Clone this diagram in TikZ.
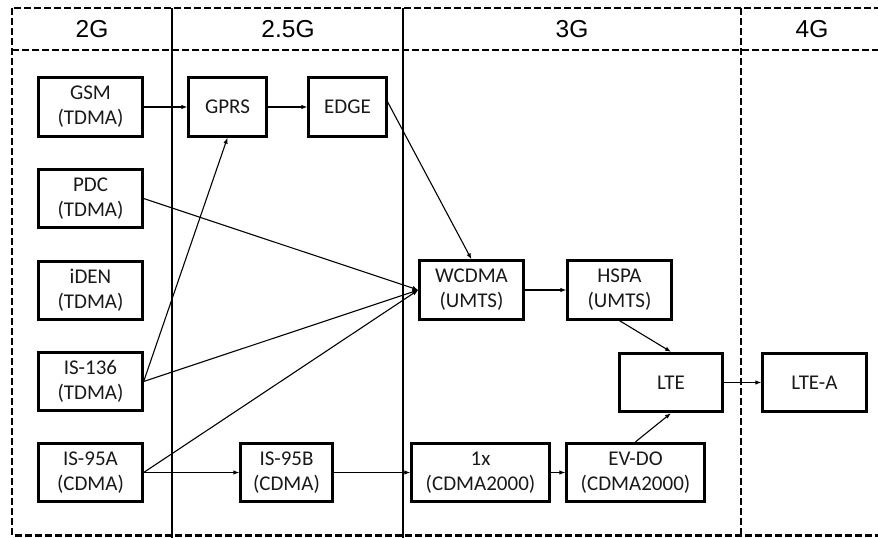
\documentclass[tikz,border=0pt]{standalone}
\usepackage{fontspec}
\setmainfont{Carlito}
\newfontfamily\headfont{Liberation Sans}
\usetikzlibrary{arrows.meta}
\begin{document}
\begin{tikzpicture}[x=1pt,y=-1pt,
  gen/.style={draw=black,line width=2.8pt,minimum height=58.5pt,inner sep=0pt,
    align=center,font=\fontsize{21}{25}\selectfont,text=black!90},
  frame/.style={line width=2.2pt,dash pattern=on 7pt off 3pt},
  divider/.style={line width=2.2pt},
  head/.style={font=\headfont\fontsize{24.5}{26}\selectfont,text=black},
  link/.style={line width=1.1pt,-{Latex[length=6pt,width=4.5pt]}}]
\useasboundingbox (0,0) rectangle (878,538);
\begin{scope}
\clip (0,0) rectangle (878,538);
% generation bands
\draw[frame] (12,8) rectangle (884,535.5);
\draw[frame] (12,50) -- (884,50);
\draw[frame] (741,8) -- (741,535.5);
\draw[divider] (172,8) -- (172,538);
\draw[divider] (403,8) -- (403,538);
\end{scope}
\node[head] (h2)  at (92,29)  {2G};
\node[head] (h25) at (288,29) {2.5G};
\node[head] (h3)  at (572,29) {3G};
\node[head] (h4)  at (812,29) {4G};
% technologies
\node[gen,minimum width=103.5pt] (gsm)   at (90.5,107)   {GSM\\(TDMA)};
\node[gen,minimum width=103.5pt] (pdc)   at (90.5,198.5) {PDC\\(TDMA)};
\node[gen,minimum width=103.5pt] (iden)  at (90.5,290.5) {iDEN\\(TDMA)};
\node[gen,minimum width=103.5pt] (is136) at (90.5,381.5) {IS-136\\(TDMA)};
\node[gen,minimum width=103.5pt] (is95a) at (90.5,472.5) {IS-95A\\(CDMA)};
\node[gen,minimum width=77.5pt]  (gprs)  at (227.5,107)  {GPRS};
\node[gen,minimum width=77.5pt]  (edge)  at (347.5,107)  {EDGE};
\node[gen,minimum width=91.5pt]  (is95b) at (286.5,472.5) {IS-95B\\(CDMA)};
\node[gen,minimum width=103.5pt] (wcdma) at (471.5,290)  {WCDMA\\(UMTS)};
\node[gen,minimum width=103.5pt] (hspa)  at (619.5,290)  {HSPA\\(UMTS)};
\node[gen,minimum width=102.5pt] (lte)   at (671,382.5)  {LTE};
\node[gen,minimum width=103.5pt] (ltea)  at (814.5,382.5) {LTE-A};
\node[gen,minimum width=137.5pt] (onex)  at (480.5,472.5) {1x\\(CDMA2000)};
\node[gen,minimum width=137.5pt] (evdo)  at (635.5,472.5) {EV-DO\\(CDMA2000)};
% evolution paths
\draw[link] (gsm.east) -- (gprs.west);
\draw[link] (gprs.east) -- (edge.west);
\draw[link] ([yshift=5pt]edge.east) -- (wcdma.north);
\draw[link] (pdc.east) -- (wcdma.west);
\draw[link] (is136.east) -- (wcdma.west);
\draw[link] (is136.east) -- (gprs.south);
\draw[link] (is95a.east) -- (wcdma.west);
\draw[link] (is95a.east) -- (is95b.west);
\draw[link] (is95b.east) -- (onex.west);
\draw[link] (onex.east) -- (evdo.west);
\draw[link] (wcdma.east) -- (hspa.west);
\draw[link] (evdo.north) -- (lte.south);
\draw[link] (hspa.south) -- (lte.north);
\draw[link] (lte.east) -- (ltea.west);
\end{tikzpicture}
\end{document}
